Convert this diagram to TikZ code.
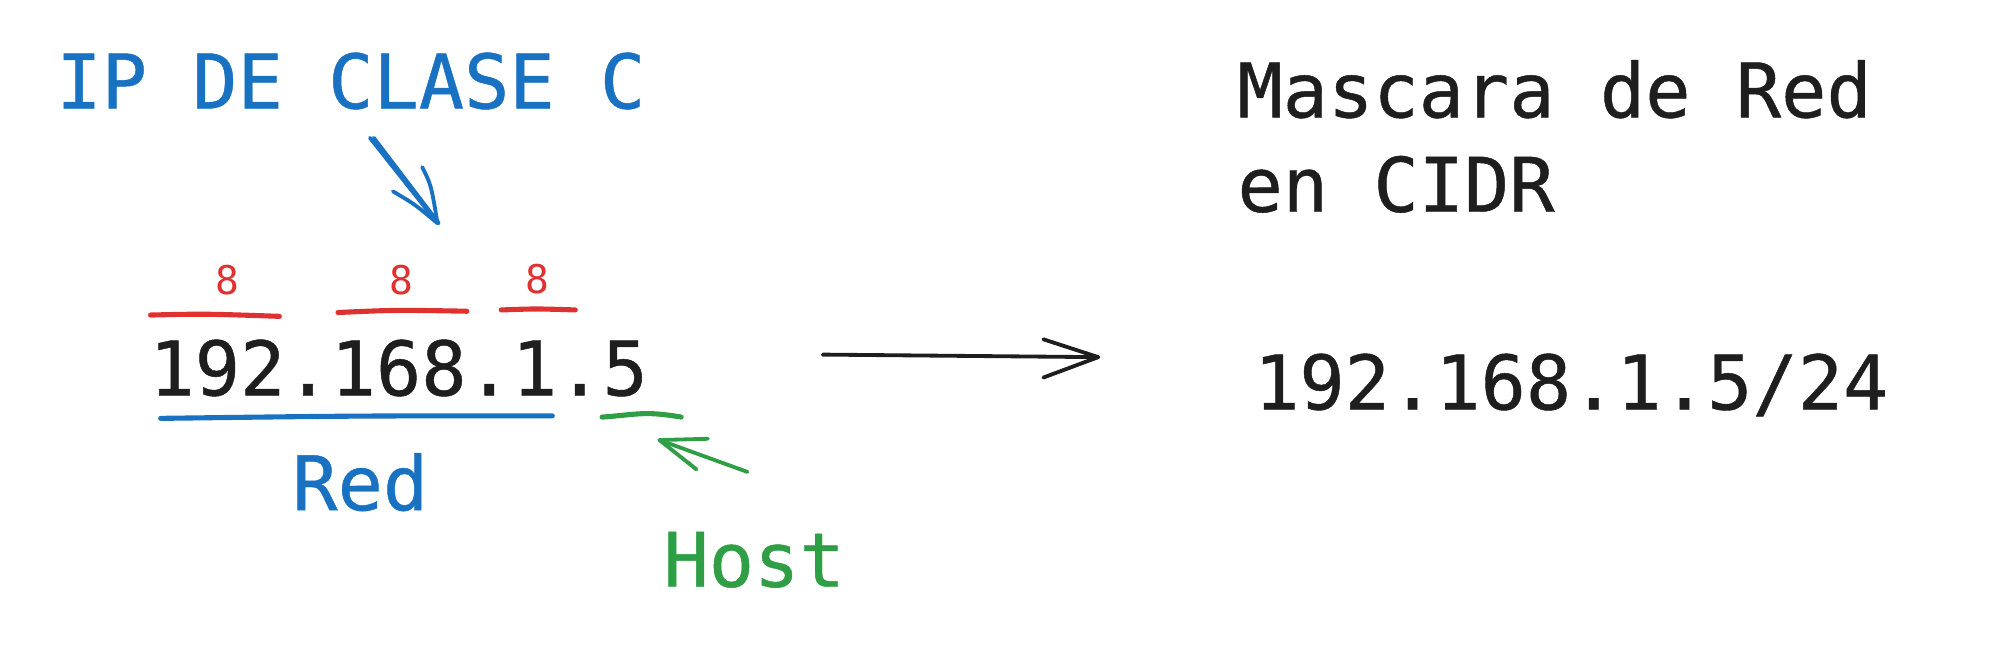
\documentclass[tikz,border=0pt]{standalone}
\usepackage{fontspec}
\setmainfont[FakeBold=0.6]{DejaVu Sans Mono}
\newfontfamily\thinmono{DejaVu Sans Mono}
\definecolor{exblue}{HTML}{1971C2}
\definecolor{exred}{HTML}{E03131}
\definecolor{exgreen}{HTML}{2F9E44}
\definecolor{exblack}{HTML}{1E1E1E}
\tikzset{
  bigtxt/.style={inner sep=0pt, anchor=base west, font=\fontsize{59}{74}\selectfont},
  smalltxt/.style={inner sep=0pt, anchor=base, font=\thinmono\fontsize{31}{36}\selectfont, text=exred},
  stroke/.style={line width=4pt, line cap=round, line join=round},
  arr/.style={line width=3pt, line cap=round, line join=round},
}
\begin{document}
\begin{tikzpicture}[x=1pt,y=-1pt]
\useasboundingbox (0,0) rectangle (1568,508);
% texts
\node[bigtxt, text=exblue] (ipc) at (44,85) {IP DE CLASE C};
\node[bigtxt, text=exblack] (ip) at (117,310) {192.168.1.5};
\node[bigtxt, text=exblue] (red) at (229,400) {Red};
\node[bigtxt, text=exgreen] (host) at (520,460) {Host};
\node[bigtxt, text=exblack, align=left, anchor=base west] (mask) at (970,166) {Mascara de Red\\en CIDR};
\node[bigtxt, text=exblack] (cidr) at (983,321) {192.168.1.5/24};
\node[smalltxt] (e1) at (178,231) {8};
\node[smalltxt] (e2) at (315,231) {8};
\node[smalltxt] (e3) at (421,230) {8};
% red lines
\coordinate (r1a) at (118,247); \coordinate (r1b) at (219,248);
\coordinate (r2a) at (265,245); \coordinate (r2b) at (366,244);
\coordinate (r3a) at (393,243); \coordinate (r3b) at (451,243);
\draw[stroke, exred] (r1a) .. controls (160,246) .. (r1b);
\draw[stroke, exred] (r2a) .. controls (310,243) .. (r2b);
\draw[stroke, exred] (r3a) .. controls (420,242) .. (r3b);
% blue line
\coordinate (b1) at (126,328); \coordinate (b2) at (433,326);
\draw[stroke, exblue] (b1) .. controls (280,326) .. (b2);
% green line
\coordinate (g1) at (472,327); \coordinate (g2) at (534,327);
\draw[stroke, exgreen] (g1) .. controls (500,325) and (505,322) .. (g2);
% blue arrow
\coordinate (bt0) at (290,108); \coordinate (bt) at (343,175);
\coordinate (bb1) at (308,150); \coordinate (bb2) at (331,131);
\draw[arr, exblue] (bt0) -- (bt);
\draw[arr, exblue] ([xshift=3pt]bt0) -- ([xshift=1pt]bt);
\draw[arr, exblue] (bb1) .. controls (325,160) .. (bt);
\draw[arr, exblue] (bb2) .. controls (338,145) .. (bt);
% green arrow
\coordinate (gt) at (517,345); \coordinate (gt0) at (586,370);
\coordinate (gb1) at (555,344); \coordinate (gb2) at (546,368);
\draw[arr, exgreen] (gt0) -- (gt);
\draw[arr, exgreen] (gt) -- (gb1);
\draw[arr, exgreen] (gt) -- (gb2);
% black arrow
\coordinate (kt0) at (645,278); \coordinate (kt) at (861,280);
\coordinate (kb1) at (818,266); \coordinate (kb2) at (818,296);
\draw[arr, exblack] (kt0) -- (kt);
\draw[arr, exblack] (kb1) -- (kt) -- (kb2);
\end{tikzpicture}
\end{document}
